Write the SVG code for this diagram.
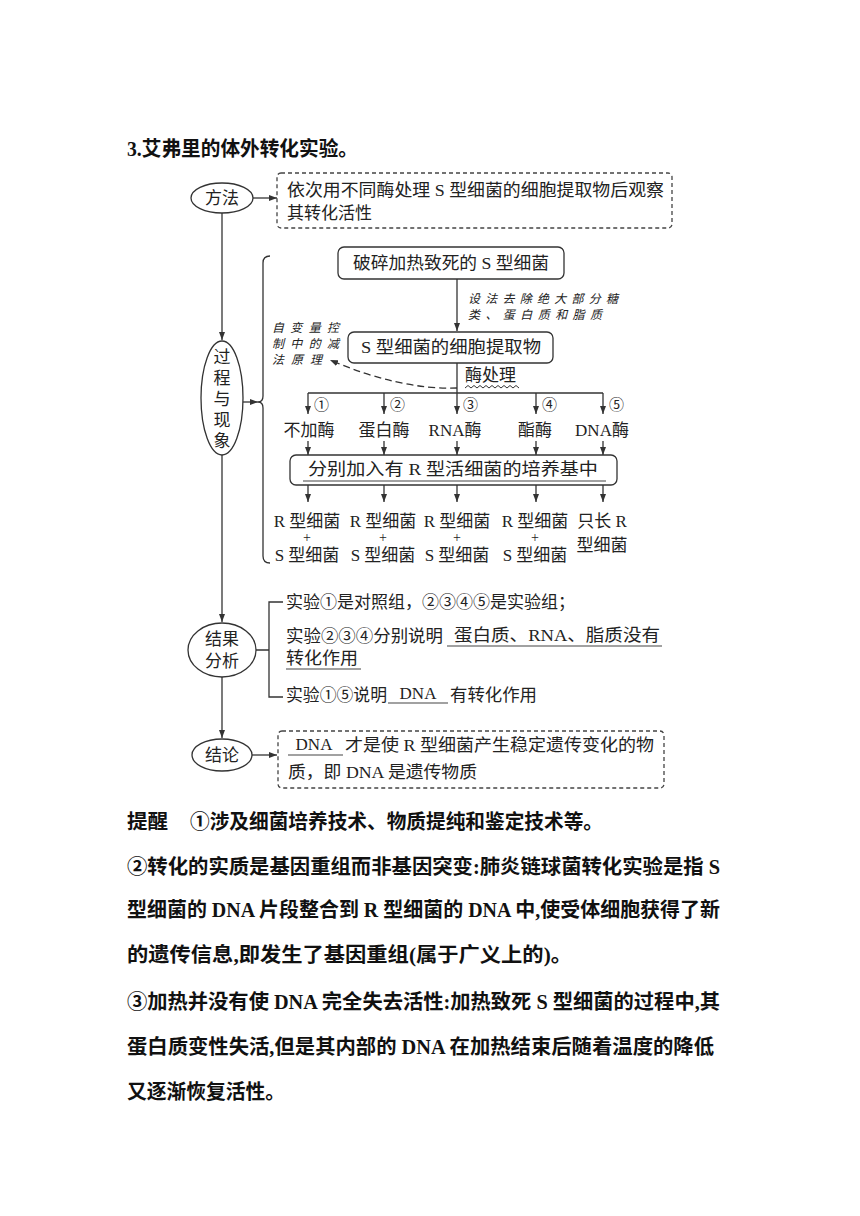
<svg xmlns="http://www.w3.org/2000/svg" width="860" height="1216" viewBox="0 0 860 1216">
<defs>
<style>
.t{font-family:"Liberation Serif","Noto Sans CJK SC",serif;font-size:17px;fill:#222}
.tc{font-family:"Liberation Serif","Noto Sans CJK SC",serif;font-size:17px;fill:#222;text-anchor:middle}
.pl{font-family:"Liberation Serif",serif;font-size:14px;fill:#222;text-anchor:middle}
.b{font-family:"Liberation Serif","Noto Sans CJK SC",serif;font-weight:700;font-size:20px;fill:#111}
.h{font-family:"Noto Sans CJK SC",sans-serif;font-style:italic;font-size:12px;fill:#222}
.ln{stroke:#333;stroke-width:1.3;fill:none}
.box{stroke:#333;stroke-width:1.3;fill:#fff}
.dbox{stroke:#444;stroke-width:1.3;fill:none;stroke-dasharray:4 3}
.u{stroke:#444;stroke-width:1.2}
.num{font-family:"Noto Sans CJK SC",sans-serif;font-size:15px;fill:#222}
</style>
<marker id="ar" viewBox="0 0 8 6" refX="8" refY="3" markerWidth="8" markerHeight="6" markerUnits="userSpaceOnUse" orient="auto">
<path d="M0,0 L8,3 L0,6 Z" fill="#333"/>
</marker>
</defs>
<rect width="860" height="1216" fill="#fff"/>

<text class="b" x="127" y="156" textLength="231" lengthAdjust="spacingAndGlyphs">3.艾弗里的体外转化实验。</text>

<g id="connectors">
<line class="ln" x1="253" y1="198" x2="277" y2="198" marker-end="url(#ar)"/>
<line class="ln" x1="222" y1="212" x2="222" y2="340" marker-end="url(#ar)"/>
<line class="ln" x1="222" y1="455" x2="222" y2="622" marker-end="url(#ar)"/>
<line class="ln" x1="222" y1="677" x2="222" y2="738" marker-end="url(#ar)"/>
<line class="ln" x1="252" y1="755" x2="277" y2="755" marker-end="url(#ar)"/>
<line class="ln" x1="243" y1="402" x2="258" y2="402" marker-end="url(#ar)"/>
<path class="ln" d="M270,256 Q263,256 263,263 L263,396 Q263,402 258,402 Q263,402 263,408 L263,556 Q263,563 270,563"/>
<line class="ln" x1="457" y1="279" x2="457" y2="331" marker-end="url(#ar)"/>
<line class="ln" x1="457" y1="363" x2="457" y2="393"/>
<line class="ln" x1="308" y1="393" x2="603" y2="393"/>
<line class="ln" x1="308" y1="393" x2="308" y2="414" marker-end="url(#ar)"/>
<line class="ln" x1="384" y1="393" x2="384" y2="414" marker-end="url(#ar)"/>
<line class="ln" x1="457" y1="393" x2="457" y2="414" marker-end="url(#ar)"/>
<line class="ln" x1="536" y1="393" x2="536" y2="414" marker-end="url(#ar)"/>
<line class="ln" x1="603" y1="393" x2="603" y2="414" marker-end="url(#ar)"/>
<line class="ln" x1="308" y1="441" x2="308" y2="455" marker-end="url(#ar)"/>
<line class="ln" x1="384" y1="441" x2="384" y2="455" marker-end="url(#ar)"/>
<line class="ln" x1="457" y1="441" x2="457" y2="455" marker-end="url(#ar)"/>
<line class="ln" x1="536" y1="441" x2="536" y2="455" marker-end="url(#ar)"/>
<line class="ln" x1="603" y1="441" x2="603" y2="455" marker-end="url(#ar)"/>
<line class="ln" x1="308" y1="485" x2="308" y2="502" marker-end="url(#ar)"/>
<line class="ln" x1="384" y1="485" x2="384" y2="502" marker-end="url(#ar)"/>
<line class="ln" x1="457" y1="485" x2="457" y2="502" marker-end="url(#ar)"/>
<line class="ln" x1="536" y1="485" x2="536" y2="502" marker-end="url(#ar)"/>
<line class="ln" x1="603" y1="485" x2="603" y2="502" marker-end="url(#ar)"/>
<path class="ln" d="M457,388 Q400,390 330,360" stroke-dasharray="7 4" marker-end="url(#ar)"/>
<path class="ln" d="M256,650 L269,650 M283,602 L269,602 L269,697 L283,697"/>
</g>

<g id="method">
<ellipse class="box" cx="222" cy="198" rx="31" ry="15"/>
<text class="tc" x="222" y="204">方法</text>
</g>
<g id="method-desc">
<rect class="dbox" x="277" y="173" width="395" height="55" rx="4"/>
<text class="t" x="287" y="196" textLength="377" lengthAdjust="spacingAndGlyphs">依次用不同酶处理 S 型细菌的细胞提取物后观察</text>
<text class="t" x="287" y="219">其转化活性</text>
</g>

<g id="process">
<ellipse class="box" cx="222" cy="398" rx="21" ry="57"/>
<text class="tc" x="222" y="363">过</text>
<text class="tc" x="222" y="384">程</text>
<text class="tc" x="222" y="405">与</text>
<text class="tc" x="222" y="426">现</text>
<text class="tc" x="222" y="447">象</text>
</g>

<g id="box-heat">
<rect class="box" x="338" y="247" width="226" height="32" rx="6"/>
<text class="tc" x="451" y="269" textLength="196" lengthAdjust="spacingAndGlyphs">破碎加热致死的 S 型细菌</text>
</g>
<g id="note-remove">
<text class="h" x="468" y="303" textLength="150" lengthAdjust="spacing">设法去除绝大部分糖</text>
<text class="h" x="468" y="319" textLength="134" lengthAdjust="spacing">类、蛋白质和脂质</text>
</g>
<g id="box-extract">
<rect class="box" x="348" y="332" width="205" height="31" rx="6"/>
<text class="tc" x="451" y="353" textLength="180" lengthAdjust="spacingAndGlyphs">S 型细菌的细胞提取物</text>
</g>
<g id="note-subtract">
<text class="h" x="272" y="332" textLength="67" lengthAdjust="spacing">自变量控</text>
<text class="h" x="272" y="348" textLength="67" lengthAdjust="spacing">制中的减</text>
<text class="h" x="272" y="364" textLength="50" lengthAdjust="spacing">法原理</text>
</g>
<g id="enzyme-label">
<text class="t" x="465" y="381">酶处理</text>
<path d="M465,388 l3,-2.5 l3,2.5 l3,-2.5 l3,2.5 l3,-2.5 l3,2.5 l3,-2.5 l3,2.5 l3,-2.5 l3,2.5 l3,-2.5 l3,2.5 l3,-2.5 l3,2.5 l3,-2.5 l3,2.5 l3,-2.5 l3,2.5" stroke="#333" stroke-width="1" fill="none"/>
</g>

<g id="enzymes">
<text class="num" x="314" y="410">①</text>
<text class="num" x="390" y="410">②</text>
<text class="num" x="463" y="410">③</text>
<text class="num" x="542" y="410">④</text>
<text class="num" x="609" y="410">⑤</text>
<text class="tc" x="309" y="436">不加酶</text>
<text class="tc" x="384" y="436">蛋白酶</text>
<text class="tc" x="455" y="436">RNA酶</text>
<text class="tc" x="535" y="436">酯酶</text>
<text class="tc" x="602" y="436">DNA酶</text>
</g>

<g id="box-medium">
<rect class="box" x="290" y="455" width="327" height="30" rx="6"/>
<line class="u" x1="303" y1="481" x2="606" y2="481"/>
<text class="tc" x="453" y="475" textLength="290" lengthAdjust="spacingAndGlyphs">分别加入有 R 型活细菌的培养基中</text>
</g>

<g id="results">
<text class="tc" x="307" y="527">R 型细菌</text>
<text class="pl" x="307" y="542">+</text>
<text class="tc" x="307" y="561">S 型细菌</text>
<text class="tc" x="383" y="527">R 型细菌</text>
<text class="pl" x="383" y="542">+</text>
<text class="tc" x="383" y="561">S 型细菌</text>
<text class="tc" x="457" y="527">R 型细菌</text>
<text class="pl" x="457" y="542">+</text>
<text class="tc" x="457" y="561">S 型细菌</text>
<text class="tc" x="535" y="527">R 型细菌</text>
<text class="pl" x="535" y="542">+</text>
<text class="tc" x="535" y="561">S 型细菌</text>
<text class="tc" x="602" y="527">只长 R</text>
<text class="tc" x="602" y="551">型细菌</text>
</g>

<g id="analysis">
<ellipse class="box" cx="222" cy="650" rx="34" ry="27"/>
<text class="tc" x="222" y="645">结果</text>
<text class="tc" x="222" y="667">分析</text>
</g>
<g id="analysis-text">
<text class="t" x="286" y="608" textLength="289" lengthAdjust="spacingAndGlyphs">实验①是对照组，②③④⑤是实验组；</text>
<text class="t" x="286" y="642" textLength="157" lengthAdjust="spacingAndGlyphs">实验②③④分别说明</text>
<text class="t" x="454" y="641" textLength="206" lengthAdjust="spacingAndGlyphs">蛋白质、RNA、脂质没有</text>
<line class="u" x1="447" y1="646" x2="662" y2="646"/>
<text class="t" x="286" y="664" textLength="72" lengthAdjust="spacingAndGlyphs">转化作用</text>
<line class="u" x1="286" y1="669" x2="361" y2="669"/>
<text class="t" x="286" y="701" textLength="101" lengthAdjust="spacingAndGlyphs">实验①⑤说明</text>
<text class="tc" x="418" y="699">DNA</text>
<line class="u" x1="388" y1="703" x2="448" y2="703"/>
<text class="t" x="450" y="701" textLength="87" lengthAdjust="spacingAndGlyphs">有转化作用</text>
</g>

<g id="conclusion">
<ellipse class="box" cx="222" cy="755" rx="30" ry="16"/>
<text class="tc" x="222" y="761">结论</text>
</g>
<g id="conclusion-text">
<rect class="dbox" x="278" y="731" width="386" height="57" rx="4"/>
<text class="tc" x="314" y="750">DNA</text>
<line class="u" x1="288" y1="755" x2="343" y2="755"/>
<text class="t" x="345" y="751" textLength="309" lengthAdjust="spacingAndGlyphs">才是使 R 型细菌产生稳定遗传变化的物</text>
<text class="t" x="288" y="778" textLength="189" lengthAdjust="spacingAndGlyphs">质，即 DNA 是遗传物质</text>
</g>

<g id="tips">
<text class="b" x="127" y="829" textLength="41" lengthAdjust="spacingAndGlyphs">提醒</text>
<text class="b" x="190" y="829" textLength="413" lengthAdjust="spacingAndGlyphs">①涉及细菌培养技术、物质提纯和鉴定技术等。</text>
<text class="b" x="127" y="874" textLength="593" lengthAdjust="spacingAndGlyphs">②转化的实质是基因重组而非基因突变:肺炎链球菌转化实验是指 S</text>
<text class="b" x="127" y="917" textLength="593" lengthAdjust="spacingAndGlyphs">型细菌的 DNA 片段整合到 R 型细菌的 DNA 中,使受体细胞获得了新</text>
<text class="b" x="127" y="962" textLength="445" lengthAdjust="spacingAndGlyphs">的遗传信息,即发生了基因重组(属于广义上的)。</text>
<text class="b" x="127" y="1009" textLength="593" lengthAdjust="spacingAndGlyphs">③加热并没有使 DNA 完全失去活性:加热致死 S 型细菌的过程中,其</text>
<text class="b" x="127" y="1054" textLength="587" lengthAdjust="spacingAndGlyphs">蛋白质变性失活,但是其内部的 DNA 在加热结束后随着温度的降低</text>
<text class="b" x="127" y="1099" textLength="158" lengthAdjust="spacingAndGlyphs">又逐渐恢复活性。</text>
</g>
</svg>
